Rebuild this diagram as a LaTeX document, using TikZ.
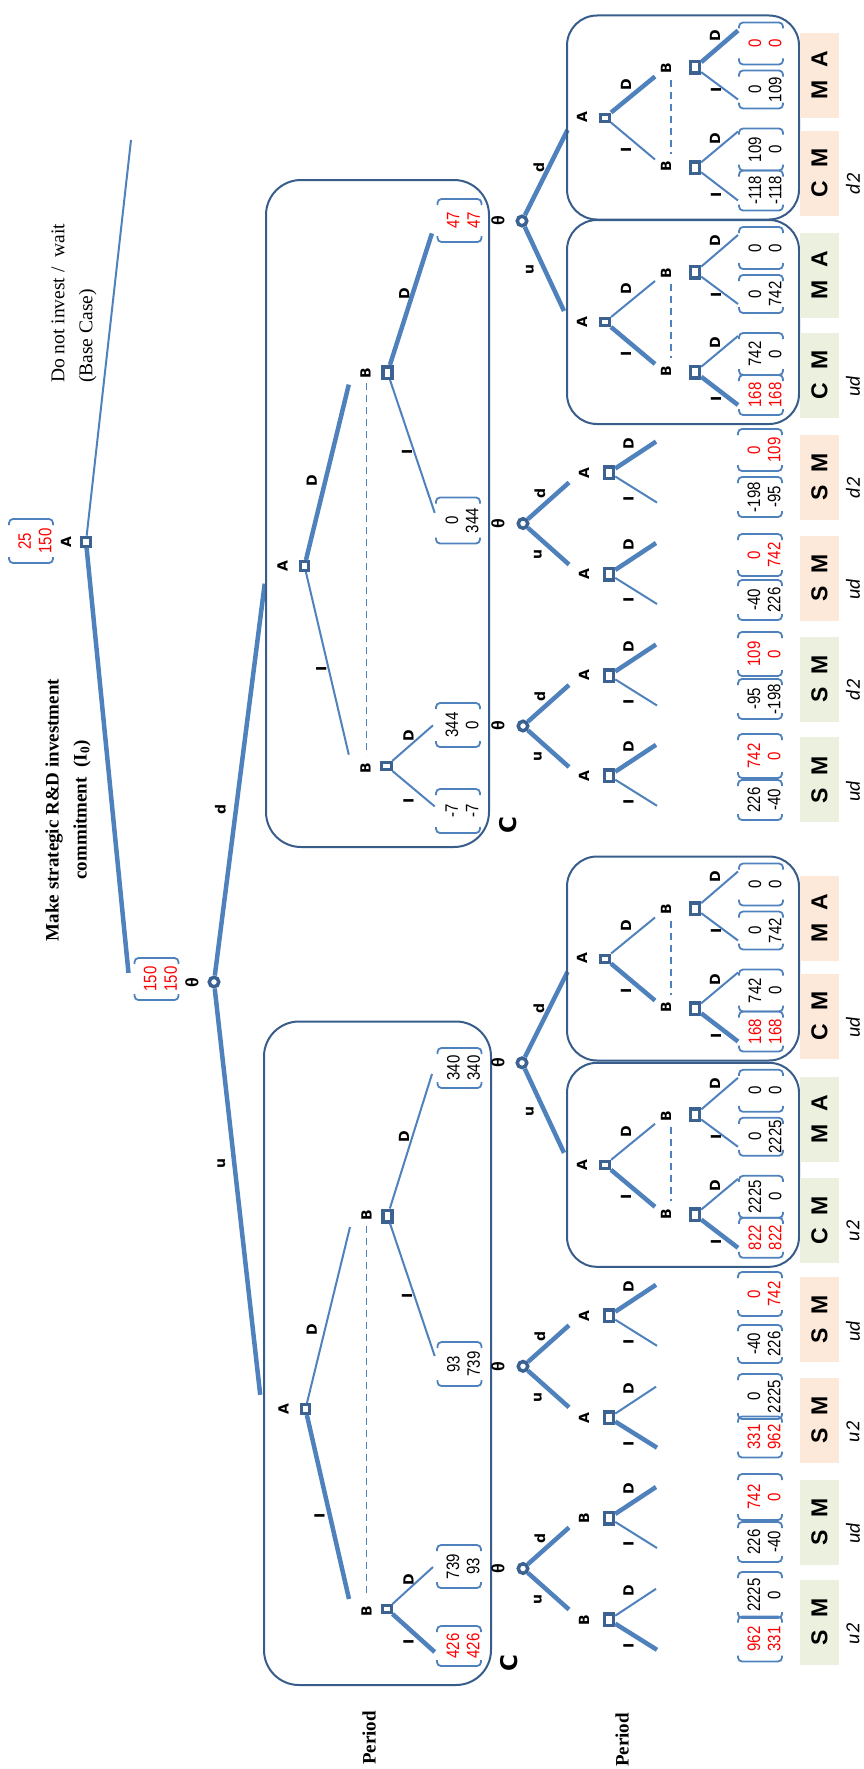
\documentclass[tikz,border=0pt]{standalone}
\usepackage{fontspec}
\setmainfont{Liberation Serif}
\newfontfamily\dejav{DejaVu Sans}
\newfontfamily\arl{Liberation Sans}
\newfontfamily\carl{Carlito}
\usetikzlibrary{calc}
\definecolor{lb}{RGB}{79,129,189}
\definecolor{db}{RGB}{56,93,138}
\definecolor{nb}{RGB}{60,98,145}
\definecolor{pch}{RGB}{253,233,217}
\definecolor{grn}{RGB}{235,241,222}
\tikzset{
 lbl/.style={rotate=90,inner sep=0,font=\dejav\bfseries\fontsize{14}{14}\selectfont},
 thl/.style={rotate=90,inner sep=0,font=\arl\bfseries\fontsize{18}{18}\selectfont},
 nmb/.style={rotate=90,yscale=1.2,inner sep=0,align=center,font=\arl\fontsize{15}{17}\selectfont},
 thk/.style={draw=lb,line width=4.5},
 thn/.style={draw=lb,line width=2},
 brk/.style={draw=lb,line width=1.8,rounded corners=4},
 dsh/.style={draw=lb,line width=1.8,dash pattern=on 7 off 5},
 fbox/.style={draw=db,line width=2},
 sqa/.style={rectangle,draw=nb,fill=white,line width=3,minimum width=9.5,minimum height=7,inner sep=0},
 sqr/.style={rectangle,draw=nb,fill=white,line width=3,minimum width=8.5,minimum height=9,inner sep=0},
 sqb/.style={rectangle,draw=nb,fill=white,line width=3.5,minimum width=9,minimum height=11.5,inner sep=0},
 chn/.style={circle,draw=nb,fill=white,line width=3.5,minimum size=9.5,inner sep=0},
 tagbox/.style={rotate=90,inner sep=0,minimum width=85,minimum height=39,font=\arl\bfseries\fontsize{23}{23}\selectfont},
 subl/.style={rotate=90,inner sep=0,font=\carl\itshape\fontsize{20}{20}\selectfont},
 bigc/.style={rotate=90,inner sep=0,font=\dejav\bfseries\fontsize{23}{23}\selectfont},
 pertxt/.style={rotate=90,inner sep=0,font=\bfseries\fontsize{19}{19}\selectfont},
}
% payoff vector: name, x, y, half-width, line1, line2, colour
\newcommand\pay[7]{%
 \node[nmb,text=#7] (#1) at (#2+4,#3) {#5\\#6};
 \draw[brk] (#2-22,#3+#4-6) -- (#2-22,#3+#4) -- (#2+22,#3+#4) -- (#2+22,#3+#4-6);
 \draw[brk] (#2-22,#3-#4+6) -- (#2-22,#3-#4) -- (#2+22,#3-#4) -- (#2+22,#3-#4+6);}
% lower decision node: name, y, letter, I style, D style
\newcommand\dn[5]{%
 \node[sqb] (#1) at (609,#2) {};
 \node[lbl] (#1l) at (584,#2) {#3};
 \coordinate (#1i) at (657,#2+30); \draw[#4] (#1) -- (#1i);
 \coordinate (#1d) at (656,#2-31); \draw[#5] (#1) -- (#1d);
 \node[lbl] (#1il) at (628.5,#2+26) {I};
 \node[lbl] (#1dl) at (628.5,#2-29) {D};}
% chance nodes
\newcommand\cnA[2]{%
 \node[chn] (#1) at (523,#2) {};
 \node[thl] (#1t) at (498,#2) {θ};
 \coordinate (#1u) at (569,#2+41); \draw[thk] (#1) -- (#1u);
 \coordinate (#1d) at (569,#2-41); \draw[thk] (#1) -- (#1d);
 \node[lbl] (#1ul) at (538,#2+31) {u};
 \node[lbl] (#1dl) at (540,#2-30) {d};}
\newcommand\cnB[2]{%
 \node[chn] (#1) at (522,#2) {};
 \node[thl] (#1t) at (498,#2) {θ};
 \coordinate (#1u) at (564,#2+90); \draw[thk] (#1) -- (#1u);
 \coordinate (#1d) at (567.5,#2-91); \draw[thk] (#1) -- (#1d);
 \node[lbl] (#1ul) at (530,#2+49) {u};
 \node[lbl] (#1dl) at (539,#2-54) {d};}
% inner subgame box: prefix, yc, A-I, A-D, B1-I, B1-D, B2-I, B2-D
\newcommand\ibox[8]{%
 \draw[fbox,rounded corners=30] (567,#2-102) rectangle (799,#2+102);
 \node[sqa] (#1A) at (605,#2) {};
 \node[lbl] (#1Al) at (582,#2) {A};
 \node[sqb] (#1B1) at (695,#2+50) {};
 \node[sqb] (#1B2) at (695,#2-50) {};
 \node[lbl] (#1B1l) at (666,#2+49) {B};
 \node[lbl] (#1B2l) at (666,#2-49) {B};
 \coordinate (#1ai) at (655,#2+42); \draw[#3] (#1A) -- (#1ai);
 \coordinate (#1ad) at (655,#2-41); \draw[#4] (#1A) -- (#1ad);
 \node[lbl] (#1ail) at (626,#2+32) {I};
 \node[lbl] (#1adl) at (626,#2-33) {D};
 \draw[dsh] ($(#1B2l)+(5,11)$) -- ($(#1B1l)+(5,-13)$);
 \coordinate (#1b1i) at (738,#2+83); \draw[#5] (#1B1) -- (#1b1i);
 \coordinate (#1b1d) at (738,#2+14); \draw[#6] (#1B1) -- (#1b1d);
 \coordinate (#1b2i) at (738,#2-18); \draw[#7] (#1B2) -- (#1b2i);
 \coordinate (#1b2d) at (738,#2-87); \draw[#8] (#1B2) -- (#1b2d);
 \node[lbl] (#1b1il) at (716,#2+77) {I};
 \node[lbl] (#1b1dl) at (715,#2+21) {D};
 \node[lbl] (#1b2il) at (716,#2-27.5) {I};
 \node[lbl] (#1b2dl) at (715,#2-81.5) {D};}
\newcommand\tagb[4]{\node[tagbox,fill=#4] (#1) at (819.5,#2) {#3};}
\newcommand\sm{S\hspace{13pt}M}
\newcommand\cm{C\hspace{13pt}M}
\newcommand\ma{M\hspace{13pt}A}
\begin{document}
\begin{tikzpicture}[x=1pt,y=-1pt]
\useasboundingbox (0,0) rectangle (864,1769);
% ---------- root ----------
\node[sqr] (rA) at (86,541.7) {};
\node[lbl] (rAl) at (66,542) {A};
\pay{p0}{31}{541}{22}{25}{150}{red}
\coordinate (wt) at (131,140);
\draw[thn] (rA) -- (wt);
\coordinate (inv) at (128.5,973);
\draw[thk] (rA) -- (inv);
\node[rotate=90,anchor=west,align=left,inner sep=0,font=\fontsize{19.5}{28}\selectfont] (dnt) at (74,383) {Do not invest /\ \ wait\\(Base Case)};
\node[rotate=90,align=center,inner sep=0,font=\bfseries\fontsize{19}{28}\selectfont] (mks) at (68,810) {Make strategic R\&D investment\\commitment\ \ (I\textsubscript{0})};
\pay{p00}{156.5}{979}{21}{150}{150}{red}
\node[thl] (t0l) at (192,983) {θ};
\node[chn] (t0) at (214,982) {};
\coordinate (t0u) at (260.2,1394.8);
\coordinate (t0d) at (264.7,583.7);
\draw[thk] (t0) -- (t0u);
\draw[thk] (t0) -- (t0d);
\node[lbl] (t0ul) at (221.5,1164) {u};
\node[lbl] (t0dl) at (220.4,809.5) {d};
% ---------- left big box (u) ----------
\draw[fbox,rounded corners=35] (264,1021.5) rectangle (491,1685);
\node[sqr] (uA) at (305.5,1409) {};
\node[lbl] (uAl) at (283.5,1409) {A};
\node[sqa] (uB1) at (387,1609) {};
\node[lbl] (uB1l) at (366.5,1611) {B};
\node[sqb] (uB2) at (387.5,1216) {};
\node[lbl] (uB2l) at (366.5,1215) {B};
\coordinate (uAi) at (349,1599); \draw[thk] (uA) -- (uAi);
\node[lbl] (uAil) at (319.5,1516) {I};
\coordinate (uAd) at (350,1227); \draw[thn] (uA) -- (uAd);
\node[lbl] (uAdl) at (311.7,1330) {D};
\draw[dsh] ($(uB2l)+(0,11)$) -- ($(uB1l)+(0,-13)$);
\coordinate (uB1i) at (434.7,1652); \draw[thk] (uB1) -- (uB1i);
\node[lbl] (uB1il) at (408.6,1641.5) {I};
\coordinate (uB1d) at (433,1567); \draw[thn] (uB1) -- (uB1d);
\node[lbl] (uB1dl) at (408.6,1579.5) {D};
\coordinate (uB2i) at (434.7,1356); \draw[thn] (uB2) -- (uB2i);
\node[lbl] (uB2il) at (407,1296) {I};
\coordinate (uB2d) at (432,1074); \draw[thn] (uB2) -- (uB2d);
\node[lbl] (uB2dl) at (404,1137) {D};
\pay{b1}{459}{1646}{20}{426}{426}{red}
\pay{b2}{459}{1566.5}{21.5}{739}{93}{black}
\pay{b3}{459.5}{1364}{22}{93}{739}{black}
\pay{b4}{459.5}{1068}{20}{340}{340}{black}
\node[bigc] (C1) at (509.4,1663) {C};
% ---------- right big box (d) ----------
\draw[fbox,rounded corners=35] (266,180) rectangle (489,847);
\node[sqr] (dA) at (304.5,566) {};
\node[lbl] (dAl) at (282.5,566) {A};
\node[sqb] (dB2) at (387.5,372.5) {};
\node[lbl] (dB2l) at (365.5,373) {B};
\node[sqa] (dB1) at (386.5,766) {};
\node[lbl] (dB1l) at (365.5,768) {B};
\coordinate (dAd) at (348.8,384.6); \draw[thk] (dA) -- (dAd);
\coordinate (dAi) at (348.8,754.7); \draw[thn] (dA) -- (dAi);
\node[lbl] (dAdl) at (311.7,480.3) {D};
\node[lbl] (dAil) at (321.2,668.6) {I};
\draw[dsh] ($(dB2l)+(1,10)$) -- ($(dB1l)+(1,-13)$);
\coordinate (dB2d) at (431.9,233.4); \draw[thk] (dB2) -- (dB2d);
\node[lbl] (dB2dl) at (404.2,293.9) {D};
\coordinate (dB2i) at (434.7,512.8); \draw[thn] (dB2) -- (dB2i);
\node[lbl] (dB2il) at (407,451.6) {I};
\coordinate (dB1i) at (434.7,806.4); \draw[thn] (dB1) -- (dB1i);
\node[lbl] (dB1il) at (408.6,800.7) {I};
\coordinate (dB1d) at (433,725.3); \draw[thn] (dB1) -- (dB1d);
\node[lbl] (dB1dl) at (408.6,735.6) {D};
\pay{b5}{459.5}{220.5}{21.5}{47}{47}{red}
\pay{b6}{458}{520.5}{23}{0}{344}{black}
\pay{b7}{458}{811}{22}{-7}{-7}{black}
\pay{b8}{458}{725}{22}{344}{0}{black}
\node[bigc] (C2) at (508.3,825.5) {C};
% ---------- lower level ----------
\cnA{c1}{1568.5} \dn{n1}{1619.8}{B}{thk}{thn} \dn{n2}{1518}{B}{thn}{thk}
\cnA{c2}{1366.3} \dn{n3}{1417.7}{A}{thk}{thn} \dn{n4}{1315.8}{A}{thn}{thk}
\cnB{c3}{1062.8}
\cnA{c4}{726} \dn{n5}{775.8}{A}{thn}{thk} \dn{n6}{675.5}{A}{thn}{thk}
\cnA{c5}{523.5} \dn{n7}{574}{A}{thn}{thk} \dn{n8}{472.6}{A}{thn}{thk}
\cnB{c6}{221}
\pay{q1}{760}{1639}{22.5}{962}{331}{red}
\pay{q2}{760}{1595}{23}{2225}{0}{black}
\pay{q3}{760}{1542}{20}{226}{-40}{black}
\pay{q4}{760}{1497}{23}{742}{0}{red}
\pay{q5}{760}{1437}{20.5}{331}{962}{red}
\pay{q6}{760}{1396.5}{22.5}{0}{2225}{black}
\pay{q7}{760}{1344}{19}{-40}{226}{black}
\pay{q8}{760}{1294}{22}{0}{742}{red}
\pay{q9}{760}{800}{20}{226}{-40}{black}
\pay{q10}{760}{756}{22}{742}{0}{red}
\pay{q11}{760}{699}{20}{-95}{-198}{black}
\pay{q12}{760}{654}{22}{109}{0}{red}
\pay{q13}{760}{600}{20}{-40}{226}{black}
\pay{q14}{760}{555}{21}{0}{742}{red}
\pay{q15}{760}{497}{20}{-198}{-95}{black}
\pay{q16}{760}{450}{21}{0}{109}{red}
% ---------- inner boxes ----------
\ibox{bu}{1164.8}{thk}{thn}{thk}{thn}{thn}{thn}
\pay{bup1}{761}{1164.8+73}{20}{822}{822}{red}
\pay{bup2}{761}{1164.8+32}{21}{2225}{0}{black}
\pay{bup3}{761}{1164.8-28}{19}{0}{2225}{black}
\pay{bup4}{761}{1164.8-74}{21}{0}{0}{black}
\ibox{bv}{958.5}{thk}{thn}{thk}{thn}{thn}{thn}
\pay{bvp1}{761}{958.5+73}{20}{168}{168}{red}
\pay{bvp2}{761}{958.5+32}{21}{742}{0}{black}
\pay{bvp3}{761}{958.5-28}{19}{0}{742}{black}
\pay{bvp4}{761}{958.5-74}{21}{0}{0}{black}
\ibox{rv}{322}{thk}{thn}{thk}{thn}{thn}{thn}
\pay{rvp1}{761}{322+73}{20}{168}{168}{red}
\pay{rvp2}{761}{322+32}{21}{742}{0}{black}
\pay{rvp3}{761}{322-28}{19}{0}{742}{black}
\pay{rvp4}{761}{322-74}{21}{0}{0}{black}
\ibox{rw}{117.5}{thn}{thk}{thn}{thn}{thn}{thk}
\pay{rwp1}{761}{117.5+73}{20}{-118}{-118}{black}
\pay{rwp2}{761}{117.5+32}{21}{109}{0}{black}
\pay{rwp3}{761}{117.5-28}{19}{0}{109}{black}
\pay{rwp4}{761}{117.5-74}{21}{0}{0}{red}
% ---------- label strip ----------
\tagb{L1}{1622}{\sm}{grn}   \node[subl] (s1) at (853,1634) {u2};
\tagb{L2}{1522}{\sm}{grn}   \node[subl] (s2) at (853,1533) {ud};
\tagb{L3}{1420}{\sm}{pch}   \node[subl] (s3) at (853,1432) {u2};
\tagb{L4}{1319.5}{\sm}{pch} \node[subl] (s4) at (853,1331) {ud};
\tagb{L5}{1220.5}{\cm}{grn} \node[subl] (s5) at (853,1231) {u2};
\tagb{L6}{1119}{\ma}{grn}
\tagb{L7}{1016}{\cm}{pch}   \node[subl] (s7) at (853,1027) {ud};
\tagb{L8}{918}{\ma}{pch}
\tagb{L9}{779.6}{\sm}{grn}  \node[subl] (s9) at (853,791) {ud};
\tagb{L10}{679}{\sm}{grn}   \node[subl] (s10) at (853,690) {d2};
\tagb{L11}{578}{\sm}{pch}   \node[subl] (s11) at (853,589) {ud};
\tagb{L12}{477}{\sm}{pch}   \node[subl] (s12) at (853,488) {d2};
\tagb{L13}{375}{\cm}{grn}   \node[subl] (s13) at (853,386) {ud};
\tagb{L14}{275.5}{\ma}{grn}
\tagb{L15}{173}{\cm}{pch}   \node[subl] (s15) at (853,184) {d2};
\tagb{L16}{75.5}{\ma}{pch}
% ---------- period labels ----------
\node[pertxt] (per1) at (369,1738) {Period};
\node[pertxt] (per2) at (622,1740) {Period};
\end{tikzpicture}
\end{document}
